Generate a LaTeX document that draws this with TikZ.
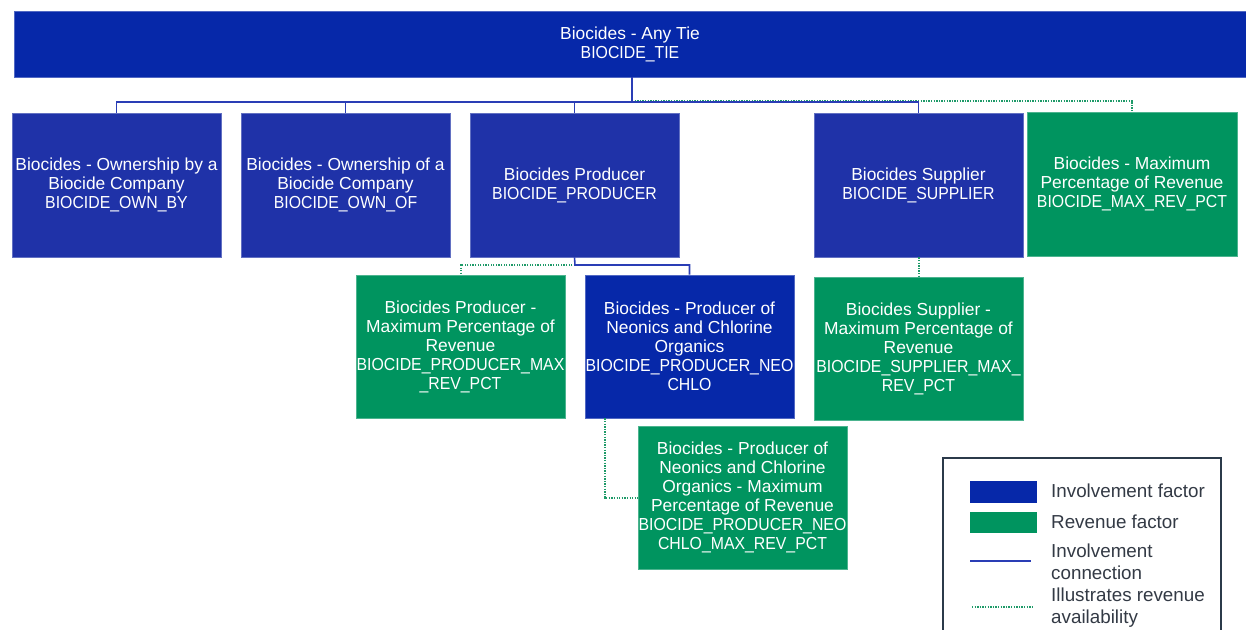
\documentclass[tikz,border=0pt]{standalone}
\usepackage{fontspec}
\setmainfont{Liberation Sans}
\newfontfamily\idfamily[FakeStretch=0.91]{Liberation Sans}
\definecolor{invdark}{HTML}{0628A9}
\definecolor{invblue}{HTML}{1F32A8}
\definecolor{revgreen}{HTML}{00945F}
\definecolor{invline}{HTML}{2A3DB5}
\definecolor{revline}{HTML}{1E9A68}
\definecolor{legframe}{HTML}{2B3A4A}
\definecolor{legtext}{HTML}{333A45}
\newcommand{\idtxt}[1]{{\idfamily #1}}
\tikzset{
  fbox/.style={rectangle, inner sep=0pt, align=center, text=white,
    font={\fontsize{17.4}{19}\selectfont}, line width=0.8pt},
  invbox/.style={fbox, fill=invblue, draw=invblue!70!white},
  invdbox/.style={fbox, fill=invdark, draw=invdark!70!white},
  revbox/.style={fbox, fill=revgreen, draw=revgreen!70!white},
  invconn/.style={draw=invline, line width=1.6pt},
  revconn/.style={draw=revline, line width=2pt, dash pattern=on 1.3pt off 1.3pt},
  legtxt/.style={anchor=west, inner sep=0pt, align=left, text=legtext,
    font={\fontsize{18.8}{22}\selectfont}},
}
\begin{document}
\begin{tikzpicture}[x=1pt,y=-1pt]
\clip (0,0) rectangle (1246,629);
\fill[white] (0,0) rectangle (1246,629);

% top
\node[invdbox, minimum width=1232pt, minimum height=66pt] (tie) at (630,44) {Biocides - Any Tie\\\idtxt{BIOCIDE\_TIE}};

% row 1
\node[invbox, minimum width=209pt, minimum height=144pt] (ownby) at (116.5,185) {Biocides - Ownership by a\\Biocide Company\\\idtxt{BIOCIDE\_OWN\_BY}};
\node[invbox, minimum width=209pt, minimum height=144pt] (ownof) at (345.5,185) {Biocides - Ownership of a\\Biocide Company\\\idtxt{BIOCIDE\_OWN\_OF}};
\node[invbox, minimum width=209pt, minimum height=144pt] (producer) at (574.5,185) {Biocides Producer\\\idtxt{BIOCIDE\_PRODUCER}};
\node[invbox, minimum width=209pt, minimum height=144pt] (supplier) at (918.5,185) {Biocides Supplier\\\idtxt{BIOCIDE\_SUPPLIER}};
\node[revbox, minimum width=210pt, minimum height=144pt] (maxrev) at (1132,184) {Biocides - Maximum\\Percentage of Revenue\\\idtxt{BIOCIDE\_MAX\_REV\_PCT}};

% row 2
\node[revbox, minimum width=209pt, minimum height=143pt] (prodmax) at (460.5,346.5) {Biocides Producer -\\Maximum Percentage of\\Revenue\\\idtxt{BIOCIDE\_PRODUCER\_MAX}\\\idtxt{\_REV\_PCT}};
\node[invdbox, minimum width=209pt, minimum height=143pt] (neochlo) at (689.5,346.5) {Biocides - Producer of\\Neonics and Chlorine\\Organics\\\idtxt{BIOCIDE\_PRODUCER\_NEO}\\\idtxt{CHLO}};
\node[revbox, minimum width=209pt, minimum height=143pt] (supmax) at (918.5,348.5) {Biocides Supplier -\\Maximum Percentage of\\Revenue\\\idtxt{BIOCIDE\_SUPPLIER\_MAX\_}\\\idtxt{REV\_PCT}};
\node[revbox, minimum width=209pt, minimum height=143pt] (neomax) at (742.5,497.5) {Biocides - Producer of\\Neonics and Chlorine\\Organics - Maximum\\Percentage of Revenue\\\idtxt{BIOCIDE\_PRODUCER\_NEO}\\\idtxt{CHLO\_MAX\_REV\_PCT}};

% connectors
\coordinate (bus) at (632,102);
\coordinate (gbus) at (632,100.5);
\draw[revconn] (gbus) -- (maxrev.north |- gbus) -- (maxrev.north);
\draw[invconn] (tie.south -| bus) -- (bus);
\draw[invconn] (ownby.north) -- (ownby.north |- bus) -- (supplier.north |- bus) -- (supplier.north);
\draw[invconn] (ownof.north |- bus) -- (ownof.north);
\draw[invconn] (producer.north |- bus) -- (producer.north);

\coordinate (pbus) at (575,265);
\draw[revconn] (pbus) -- (prodmax.north |- pbus) -- (prodmax.north);
\draw[invconn] (producer.south) -- (pbus) -- (neochlo.north |- pbus) -- (neochlo.north);

\draw[revconn] (supplier.south) -- (supmax.north);

\coordinate (ncout) at ([xshift=20pt]neochlo.south west);
\draw[revconn] (ncout) |- (neomax.west);

% legend
\draw[draw=legframe, line width=2.5pt, fill=white] (943,458) rectangle (1221,650);
\fill[invdark] (970,481) rectangle (1037,503);
\node[legtxt] (l1) at (1051,491) {Involvement factor};
\fill[revgreen] (970,512) rectangle (1037,533);
\node[legtxt] (l2) at (1051,522) {Revenue factor};
\coordinate (lc1) at (970,561);
\coordinate (lc2) at (1031,561);
\draw[invconn] (lc1) -- (lc2);
\node[legtxt] (l3) at (1051,562) {Involvement\\connection};
\coordinate (lr1) at (972,607);
\coordinate (lr2) at (1033,607);
\draw[revconn] (lr1) -- (lr2);
\node[legtxt] (l4) at (1051,608) {Illustrates revenue\\availability};
\end{tikzpicture}
\end{document}
